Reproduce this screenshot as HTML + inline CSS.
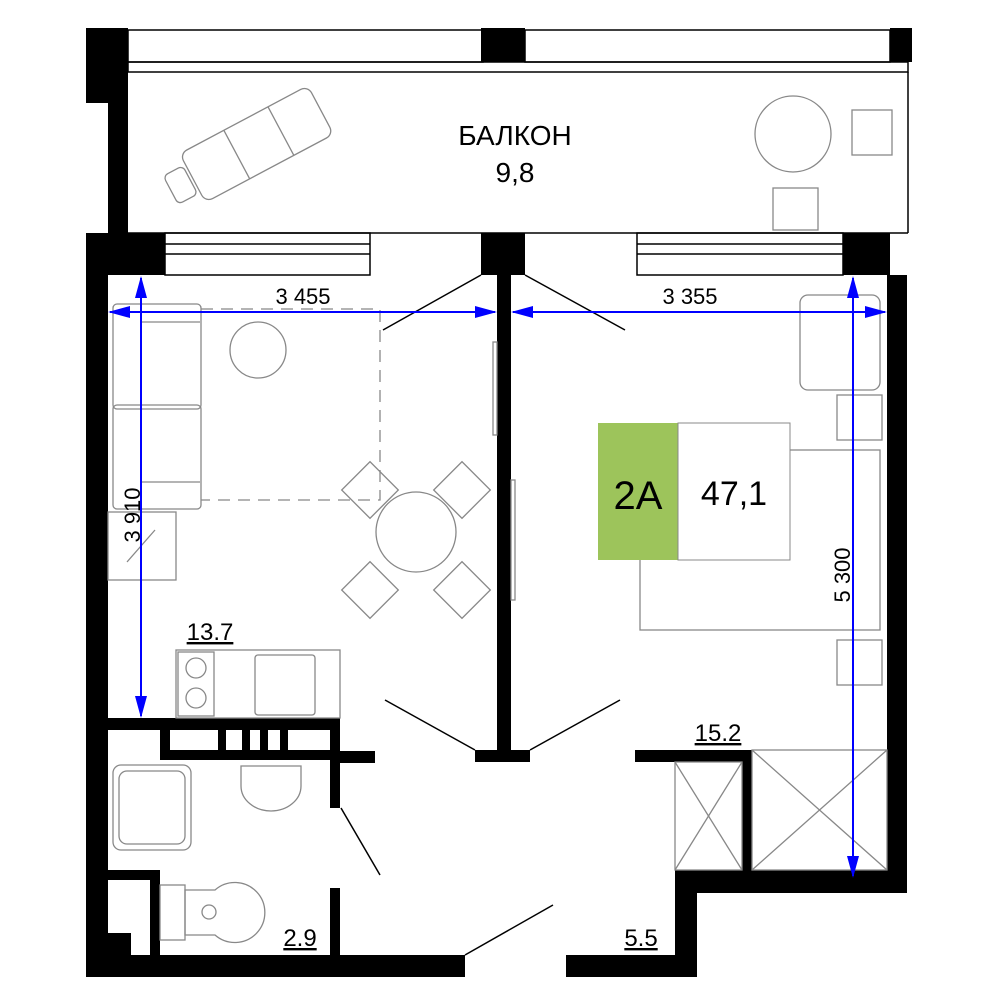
<!DOCTYPE html>
<html><head><meta charset="utf-8"><style>html,body{margin:0;padding:0;background:#fff}svg{display:block}</style></head>
<body>
<svg width="1000" height="1000" viewBox="0 0 1000 1000" xmlns="http://www.w3.org/2000/svg" font-family="Liberation Sans, sans-serif">
<rect width="1000" height="1000" fill="#fff"/>
<g fill="none" stroke="#000" stroke-width="1.5">
<rect x="128" y="30" width="355" height="32"/>
<rect x="525" y="30" width="365" height="32"/>
<rect x="128" y="62" width="780" height="10"/>
<line x1="110" y1="233" x2="908" y2="233"/>
<line x1="908" y1="72" x2="908" y2="233"/>
<rect x="165" y="233" width="205" height="42"/>
<line x1="165" y1="244" x2="370" y2="244"/><line x1="165" y1="254" x2="370" y2="254"/>
<rect x="637" y="233" width="206" height="42"/>
<line x1="637" y1="244" x2="843" y2="244"/><line x1="637" y1="254" x2="843" y2="254"/>
<line x1="481" y1="275" x2="383" y2="330"/><line x1="525" y1="275" x2="625" y2="330"/>
<line x1="475" y1="750" x2="385" y2="700"/><line x1="530" y1="750" x2="620" y2="700"/>
<line x1="341" y1="808" x2="380" y2="875"/>
<line x1="465" y1="955" x2="553" y2="905"/>
</g>
<g fill="#000">
<rect x="86" y="28" width="42" height="75"/>
<rect x="108" y="28" width="20" height="210"/>
<rect x="86" y="233" width="79" height="42"/>
<rect x="86" y="255" width="22" height="720"/>
<rect x="481" y="28" width="44" height="34"/>
<rect x="481" y="233" width="44" height="42"/>
<rect x="890" y="28" width="22" height="34"/>
<rect x="843" y="233" width="47" height="42"/>
<rect x="887" y="275" width="20" height="618"/>
<rect x="497" y="275" width="14" height="480"/>
<rect x="475" y="750" width="55" height="12"/>
<rect x="108" y="718" width="232" height="12"/>
<rect x="160" y="718" width="10" height="42"/>
<rect x="160" y="750" width="180" height="10"/>
<rect x="330" y="718" width="10" height="90"/>
<rect x="340" y="751" width="35" height="12"/>
<rect x="218" y="728" width="8" height="25"/><rect x="242" y="728" width="8" height="25"/><rect x="260" y="728" width="8" height="25"/><rect x="280" y="728" width="8" height="25"/>
<rect x="108" y="870" width="52" height="10"/>
<rect x="150" y="870" width="10" height="90"/>
<rect x="108" y="933" width="23" height="25"/>
<rect x="330" y="888" width="10" height="70"/>
<rect x="86" y="955" width="379" height="22"/>
<rect x="566" y="955" width="131" height="22"/>
<rect x="675" y="870" width="22" height="107"/>
<rect x="675" y="870" width="232" height="23"/>
<rect x="635" y="750" width="117" height="12"/>
<rect x="742" y="750" width="10" height="125"/>
</g>
<g fill="none" stroke="#888" stroke-width="1.3">
<rect x="113" y="304" width="88" height="105" rx="4"/>
<rect x="113" y="405" width="88" height="104" rx="4"/>
<line x1="140" y1="322" x2="200" y2="322"/><line x1="140" y1="482" x2="200" y2="482"/>
<circle cx="258" cy="350" r="28"/>
<path d="M201 309 H380 V500 H201" stroke-dasharray="12 8"/>
<circle cx="416" cy="532" r="40"/>
<rect x="350" y="470" width="40" height="40" transform="rotate(45 370 490)"/>
<rect x="442" y="470" width="40" height="40" transform="rotate(-45 462 490)"/>
<rect x="350" y="570" width="40" height="40" transform="rotate(-45 370 590)"/>
<rect x="442" y="570" width="40" height="40" transform="rotate(45 462 590)"/>
<rect x="493" y="342" width="4" height="93"/><rect x="511" y="480" width="4" height="120"/>
<rect x="108" y="512" width="68" height="68"/>
<line x1="127" y1="562" x2="155" y2="530"/>
<rect x="176" y="650" width="164" height="68"/>
<rect x="178" y="652" width="36" height="64"/>
<circle cx="196" cy="668" r="10"/><circle cx="196" cy="698" r="10"/>
<rect x="255" y="655" width="60" height="60" rx="3"/>
<rect x="113" y="765" width="78" height="85" rx="8"/>
<rect x="119" y="771" width="66" height="73" rx="8"/>
<path d="M241 766 h60 v20 a30 25 0 0 1 -60 0 z"/>
<rect x="160" y="885" width="25" height="55"/>
<path d="M185 890 h30 a30 30 0 1 1 0 45 h-30 z"/>
<circle cx="209" cy="912" r="7"/>
<g transform="rotate(-28 240 150)">
<rect x="185" y="125" width="145" height="55" rx="8"/>
<line x1="235" y1="125" x2="235" y2="180"/><line x1="285" y1="125" x2="285" y2="180"/>
<rect x="160" y="137" width="22" height="32" rx="5"/>
</g>
<circle cx="793" cy="134" r="38"/>
<rect x="852" y="110" width="40" height="45"/>
<rect x="773" y="188" width="45" height="42"/>
<rect x="800" y="295" width="80" height="95" rx="8"/>
<rect x="837" y="395" width="45" height="45"/>
<rect x="640" y="450" width="240" height="180"/>
<rect x="837" y="640" width="45" height="45"/>
<rect x="675" y="762" width="67" height="108"/>
<line x1="675" y1="762" x2="742" y2="870"/><line x1="742" y1="762" x2="675" y2="870"/>
<rect x="752" y="750" width="135" height="120"/>
<line x1="752" y1="750" x2="887" y2="870"/><line x1="887" y1="750" x2="752" y2="870"/>
</g>
<rect x="598" y="423" width="80" height="137" fill="#9dc45b"/>
<rect x="678" y="423" width="112" height="137" fill="#fff" stroke="#888"/>
<text x="638" y="509" font-size="40" text-anchor="middle">2A</text>
<text x="734" y="505" font-size="34" text-anchor="middle">47,1</text>
<g fill="#000" text-anchor="middle">
<text x="515" y="145" font-size="28">БАЛКОН</text>
<text x="515" y="182" font-size="28">9,8</text>
<text x="303" y="304" font-size="22">3 455</text>
<text x="690" y="304" font-size="22">3 355</text>
<text x="210" y="640" font-size="24" text-decoration="underline">13.7</text>
<text x="718" y="741" font-size="24" text-decoration="underline">15.2</text>
<text x="300" y="946" font-size="24" text-decoration="underline">2.9</text>
<text x="641" y="946" font-size="24" text-decoration="underline">5.5</text>
<text x="0" y="0" font-size="22" transform="translate(140 515) rotate(-90)">3 910</text>
<text x="0" y="0" font-size="22" transform="translate(850 575) rotate(-90)">5 300</text>
</g>
<g stroke="#0000ff" stroke-width="2" fill="#0000ff">
<line x1="110" y1="312" x2="495" y2="312"/>
<line x1="513" y1="312" x2="885" y2="312"/>
<line x1="141" y1="278" x2="141" y2="716"/>
<line x1="853" y1="278" x2="853" y2="876"/>
<path d="M108 312 l22 -6 v12z M497 312 l-22 -6 v12z M511 312 l22 -6 v12z M887 312 l-22 -6 v12z" stroke="none"/>
<path d="M141 276 l-6 22 h12z M141 718 l-6 -22 h12z M853 276 l-6 22 h12z M853 878 l-6 -22 h12z" stroke="none"/>
</g>
</svg>
</body></html>
